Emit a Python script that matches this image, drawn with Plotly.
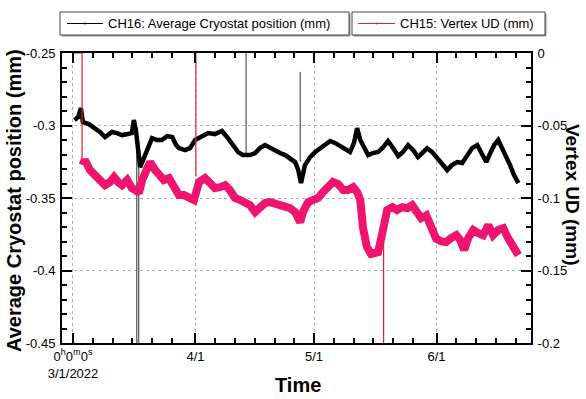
import pandas as pd
import plotly.graph_objects as go

START = pd.Timestamp("2022-03-01")

# ---- CH16: Average Cryostat position (mm) (left axis) ----
black_days = [0.4, 1.3, 2.0, 2.5, 4.0, 5.6, 6.8, 8.1, 9.9, 11.1, 12.4, 13.9, 14.9, 15.4, 15.9,
              17.0, 18.2, 19.0, 20.0, 21.3, 22.5, 23.8, 25.1, 26.1, 26.8, 28.4, 29.6, 30.9,
              31.9, 33.2, 34.2, 35.9, 37.7, 39.2, 40.5, 41.8, 43.0, 44.8, 46.1, 47.3, 48.6,
              49.9, 51.1, 52.4, 53.7, 54.9, 56.2, 57.0, 57.7, 58.7, 60.0, 61.3, 62.5, 63.8,
              65.1, 66.3, 67.6, 68.9, 70.1, 71.1, 71.9, 72.7, 73.7, 74.7, 75.9, 77.2, 78.5,
              79.7, 81.0, 82.3, 83.5, 84.8, 86.1, 87.3, 88.6, 89.6, 90.9, 92.2, 93.4, 94.7,
              95.9, 97.2, 98.5, 99.7, 101.0, 102.3, 103.5, 104.6, 105.6, 106.6, 107.6, 108.6,
              109.6, 110.6, 111.6, 112.7]
black_vals = [-0.2962, -0.2942, -0.2880, -0.2976, -0.2990, -0.3018, -0.3045, -0.3080, -0.3045,
              -0.3052, -0.3066, -0.3059, -0.3052, -0.2962, -0.3030,
              -0.3287, -0.3204, -0.3156, -0.3087, -0.3100, -0.3100, -0.3073, -0.3080, -0.3135,
              -0.3156, -0.3170, -0.3156, -0.3100,
              -0.3087, -0.3066, -0.3052, -0.3059, -0.3038, -0.3087, -0.3135, -0.3183, -0.3204,
              -0.3204, -0.3190, -0.3156, -0.3135,
              -0.3156, -0.3170, -0.3190, -0.3204, -0.3225, -0.3252, -0.3307, -0.3397, -0.3273,
              -0.3218, -0.3183, -0.3156, -0.3135,
              -0.3107, -0.3120, -0.3142, -0.3170, -0.3183, -0.3120, -0.3018, -0.3100, -0.3156,
              -0.3204, -0.3190, -0.3183, -0.3150,
              -0.3107, -0.3156, -0.3211, -0.3183, -0.3135, -0.3170, -0.3218, -0.3183, -0.3156,
              -0.3183, -0.3225, -0.3273, -0.3307,
              -0.3273, -0.3252, -0.3259, -0.3204, -0.3156, -0.3135, -0.3204, -0.3252, -0.3190,
              -0.3135, -0.3100, -0.3156,
              -0.3204, -0.3273, -0.3342, -0.3397]
# glitch spikes (thin lines), segments separated by None
black_spike_days = [16.15, 16.15, None, 16.65, 16.65, None, 43.8, 43.8, None, 57.5, 57.5]
black_spike_vals = [-0.303, -0.47, None, -0.47, -0.329, None, -0.24, -0.319, None, -0.263, -0.325]

# ---- CH15: Vertex UD (mm) (right axis) ----
red_days = [2.4, 3.0, 4.3, 5.6, 6.8, 8.1, 9.4, 10.4, 11.4, 12.4, 13.7, 14.9, 15.9, 16.7, 17.5,
            18.5, 19.5, 20.8, 21.8, 23.0, 24.3, 25.6, 26.8, 28.1, 29.4, 30.6, 31.9, 33.4, 34.7,
            35.9, 37.2, 38.5, 39.7, 41.0, 42.3, 43.5, 44.8, 46.1, 47.3, 48.6, 49.9, 51.1, 52.4,
            53.7, 54.9, 56.2, 57.5, 58.2, 59.5, 60.8, 62.0, 63.3, 64.6, 65.8, 67.1, 68.4, 69.6,
            70.9, 71.9, 72.7, 73.4, 74.4, 75.4, 76.5, 77.2, 78.0, 78.6, 79.5, 80.8, 82.0, 83.3,
            84.6, 85.8, 87.1, 88.1, 89.4, 90.6, 91.9, 93.2, 94.4, 95.7, 97.0, 98.0, 99.0, 100.0,
            101.3, 102.5, 103.8, 105.1, 106.3, 107.6, 108.9, 110.1, 111.4, 112.7]
red_vals = [-0.0773, -0.0738, -0.0807, -0.0842, -0.0876, -0.0911, -0.0890, -0.0856, -0.0890,
            -0.0911, -0.0876, -0.0932, -0.0945, -0.0966, -0.0876,
            -0.0794, -0.0752, -0.0807, -0.0842, -0.0876, -0.0863, -0.0932, -0.0980, -0.0980,
            -0.0994, -0.1014, -0.0890, -0.0863, -0.0897,
            -0.0932, -0.0925, -0.0911, -0.0945, -0.1000, -0.1014, -0.1028, -0.1049, -0.1097,
            -0.1063, -0.1035, -0.1028, -0.1035, -0.1049,
            -0.1049, -0.1070, -0.1097, -0.1166, -0.1097, -0.1028, -0.1014, -0.1000, -0.0959,
            -0.0918, -0.0890, -0.0904, -0.0945, -0.0945,
            -0.0925, -0.0959, -0.1014, -0.1208, -0.1340, -0.1385, -0.1370, -0.1373, -0.1277,
            -0.1166, -0.1083, -0.1063, -0.1083, -0.1063,
            -0.1070, -0.1049, -0.1097, -0.1139, -0.1120, -0.1200, -0.1280, -0.1300, -0.1304,
            -0.1277, -0.1256, -0.1290, -0.1359, -0.1277,
            -0.1221, -0.1242, -0.1256, -0.1187, -0.1256, -0.1221, -0.1208, -0.1277, -0.1325,
            -0.1394]
red_spike_days = [0.0, 2.3, 2.3, None, 31.1, 31.1, None, 78.6, 78.6]
red_spike_vals = [0.0, 0.0, -0.077, None, 0.0, -0.085, None, -0.117, -0.21]

# ---- axis ticks ----
x_major = ["2022-03-01", "2022-04-01", "2022-05-01", "2022-06-01"]
x_major_text = ["0<sup>h</sup>0<sup>m</sup>0<sup>s</sup><br>3/1/2022", "4/1", "5/1", "6/1"]
y_left_ticks = [-0.45, -0.4, -0.35, -0.3, -0.25]
y_left_text = ["-0.45", "-0.4", "-0.35", "-0.3", "-0.25"]
y_right_ticks = [-0.2, -0.15, -0.1, -0.05, 0.0]
y_right_text = ["-0.2", "-0.15", "-0.1", "-0.05", "0"]

FONT = "Liberation Sans, Arial, Helvetica, sans-serif"
RED_LINE = "#e6202a"
PINK = "#f0146e"


def to_dates(days):
    return [None if d is None else START + pd.Timedelta(days=d) for d in days]


minor_x = []
for m in x_major:
    ms = pd.Timestamp(m)
    for k in range(1, 6):
        t = ms + pd.Timedelta(days=5 * k)
        if t <= pd.Timestamp("2022-06-24"):
            minor_x.append(t)

fig = go.Figure()
fig.add_trace(go.Scatter(x=to_dates(black_spike_days), y=black_spike_vals, mode="lines",
                         line=dict(color="#303030", width=1), connectgaps=False,
                         showlegend=False, hoverinfo="skip"))
fig.add_trace(go.Scatter(x=to_dates(black_days), y=black_vals, mode="lines",
                         line=dict(color="black", width=4.5), showlegend=False))
fig.add_trace(go.Scatter(x=to_dates(red_spike_days), y=red_spike_vals, mode="lines",
                         line=dict(color=RED_LINE, width=1.2), connectgaps=False,
                         showlegend=False, hoverinfo="skip", yaxis="y2"))
fig.add_trace(go.Scatter(x=to_dates(red_days), y=red_vals, mode="lines",
                         line=dict(color=PINK, width=8), showlegend=False, yaxis="y2"))

L, R, T, B = 62, 531, 53, 343
W, H = 586, 399


def px(x):
    return (x - L) / (R - L)


def py(y):
    return (B - y) / (B - T)


shapes = []
annotations = []
# legend boxes
for (x0, x1, lx0, lx1, col, mcol, text, tx) in [
    (60, 349, 67, 103, "black", "black", "CH16: Average Cryostat position (mm)", 106),
    (352, 545, 358, 395, RED_LINE, PINK, "CH15: Vertex UD (mm)", 398),
]:
    shapes.append(dict(type="rect", xref="paper", yref="paper", x0=px(x0 + 1.5), x1=px(x1 + 1.5),
                       y0=py(36.5), y1=py(13.5), line=dict(width=0), fillcolor="#9a9a9a"))
    shapes.append(dict(type="rect", xref="paper", yref="paper", x0=px(x0), x1=px(x1),
                       y0=py(35), y1=py(12), line=dict(color="#444", width=1), fillcolor="white"))
    shapes.append(dict(type="line", xref="paper", yref="paper", x0=px(lx0), x1=px(lx1),
                       y0=py(23.5), y1=py(23.5), line=dict(color=col, width=1)))
    cx = (lx0 + lx1) / 2
    shapes.append(dict(type="circle", xref="paper", yref="paper", x0=px(cx - 1), x1=px(cx + 1),
                       y0=py(24.5), y1=py(22.5), line=dict(width=0), fillcolor=mcol))
    annotations.append(dict(text=text, xref="paper", yref="paper", x=px(tx), y=py(23.5),
                            xanchor="left", yanchor="middle", showarrow=False,
                            font=dict(family=FONT, size=13, color="black")))

annotations.append(dict(text="<b>Average Cryostat position (mm)</b>", xref="paper", yref="paper",
                        x=px(14), y=py(201), textangle=-90, showarrow=False,
                        xanchor="center", yanchor="middle",
                        font=dict(family=FONT, size=20, color="black")))
annotations.append(dict(text="<b>Vertex UD (mm)</b>", xref="paper", yref="paper",
                        x=px(573), y=py(195), textangle=90, showarrow=False,
                        xanchor="center", yanchor="middle",
                        font=dict(family=FONT, size=19, color="black")))
annotations.append(dict(text="<b>Time</b>", xref="paper", yref="paper",
                        x=px(298), y=py(385), showarrow=False,
                        xanchor="center", yanchor="middle",
                        font=dict(family=FONT, size=20, color="black")))

fig.update_layout(
    width=W, height=H,
    margin=dict(l=L, r=W - R, t=T, b=H - B),
    paper_bgcolor="white", plot_bgcolor="white",
    font=dict(family=FONT, size=13, color="black"),
    shapes=shapes, annotations=annotations,
    showlegend=False,
    xaxis=dict(
        type="date",
        range=[START - pd.Timedelta(days=2.78), START + pd.Timedelta(days=115.9)],
        tickmode="array", tickvals=x_major, ticktext=x_major_text,
        ticks="inside", ticklen=10, tickwidth=2, tickcolor="black",
        showline=True, linewidth=2, linecolor="black", mirror="ticks",
        showgrid=True, gridcolor="#b0b0b0", griddash="dot", gridwidth=1,
        zeroline=False,
        tickfont=dict(family=FONT, size=13),
        minor=dict(tickmode="array", tickvals=minor_x, ticks="inside", ticklen=5,
                   tickwidth=2, tickcolor="black", showgrid=False),
    ),
    yaxis=dict(
        range=[-0.45, -0.25],
        tickmode="array", tickvals=y_left_ticks, ticktext=y_left_text,
        ticks="inside", ticklen=10, tickwidth=2, tickcolor="black",
        showline=True, linewidth=2, linecolor="black", mirror=False,
        showgrid=True, gridcolor="#b0b0b0", griddash="dot", gridwidth=1,
        zeroline=False, ticklabelstandoff=2,
        tickfont=dict(family=FONT, size=13),
        minor=dict(dtick=0.01, tick0=-0.45, ticks="inside", ticklen=5, tickwidth=2,
                   tickcolor="black", showgrid=False),
    ),
    yaxis2=dict(
        range=[-0.2, 0.0], overlaying="y", side="right",
        tickmode="array", tickvals=y_right_ticks, ticktext=y_right_text,
        ticks="inside", ticklen=10, tickwidth=2, tickcolor="black",
        showline=True, linewidth=2, linecolor="black",
        showgrid=False, zeroline=False, ticklabelstandoff=2,
        tickfont=dict(family=FONT, size=13),
        minor=dict(dtick=0.01, tick0=-0.2, ticks="inside", ticklen=5, tickwidth=2,
                   tickcolor="black", showgrid=False),
    ),
)

fig.write_html("out.html")
